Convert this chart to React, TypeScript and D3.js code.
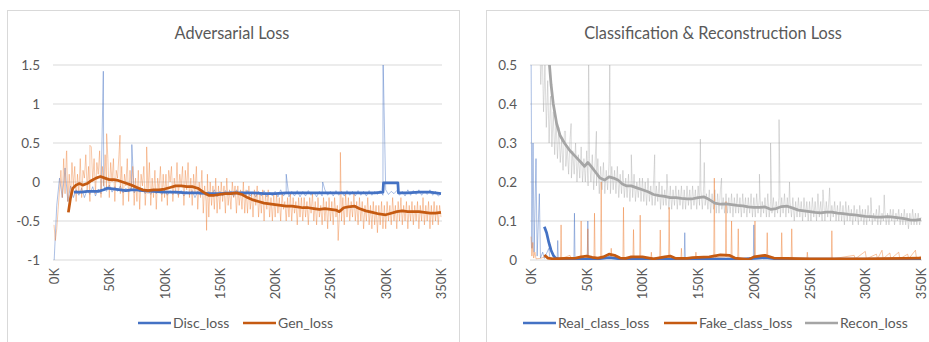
import { scaleLinear, line } from "d3";

// steps in K; raw adversarial logs every 2.5K (disc) / 1.25K (gen, recon)
const xTicks = [0, 50, 100, 150, 200, 250, 300, 350];

const discStep = 2.5;
const discRaw = [
  -1.05, -0.3, 0.05, -0.2, 0.18, -0.25, -0.05, -0.2, -0.1, -0.17,
  -0.08, -0.2, -0.1, -0.16, -0.06, -0.18, -0.09, -0.15, -0.05, -0.12,
  -0.04, -0.13, -0.06, -0.12, -0.05, -0.14, -0.08, -0.13, -0.06, -0.14,
  -0.07, -0.13, -0.08, -0.15, -0.1, -0.16, -0.09, -0.15, -0.11, -0.16,
  -0.1, -0.17, -0.11, -0.16, -0.12, -0.17, -0.11, -0.18, -0.12, -0.16,
  -0.11, -0.2, -0.12, -0.17, -0.11, -0.18, -0.12, -0.17, -0.1, -0.19,
  -0.12, -0.18, -0.11, -0.17, -0.12, -0.19, -0.1, -0.17, -0.12, -0.18,
  -0.11, -0.18, -0.13, -0.19, -0.12, -0.18, -0.11, -0.19, -0.13, -0.18,
  -0.12, -0.19, -0.1, -0.18, -0.13, -0.19, -0.12, -0.18, -0.11, -0.19,
  -0.12, -0.18, -0.11, -0.17, -0.13, -0.19, -0.12, -0.18, -0.1, -0.17,
  -0.12, -0.18, -0.11, -0.17, -0.12, -0.18, -0.11, -0.17, -0.12, -0.18,
  -0.11, -0.17, -0.12, -0.18, -0.11, -0.17, -0.12, -0.16, -0.11, -0.17,
  -0.1, -0.16, -0.12, -0.15, -0.11, -0.17, -0.12, -0.18, -0.1, -0.17,
  -0.11, -0.16, -0.1, -0.17, -0.12, -0.16, -0.1, -0.17, -0.12, -0.18,
  -0.15,
];
const discSpikes: [number, number][] = [
  [44.6, 1.42], [70.4, 0.48], [210, 0.1], [243, 0.0], [297.6, 1.6],
];
const discSmooth: [number, number][] = [
  [18, -0.13], [25, -0.13], [30, -0.12], [35, -0.12], [40, -0.12], [45, -0.1],
  [48, -0.08], [55, -0.09], [60, -0.1], [65, -0.11], [70, -0.1], [75, -0.1],
  [80, -0.11], [90, -0.12], [100, -0.13], [110, -0.13], [120, -0.14], [130, -0.14],
  [140, -0.15], [150, -0.15], [160, -0.14], [170, -0.14], [180, -0.14], [190, -0.15],
  [200, -0.15], [210, -0.14], [220, -0.14], [230, -0.14], [240, -0.14], [250, -0.14],
  [260, -0.14], [270, -0.14], [280, -0.14], [290, -0.14], [297.5, -0.13], [298, -0.01],
  [311, -0.01], [311.5, -0.14], [320, -0.14], [330, -0.13], [340, -0.13], [345, -0.14],
  [350, -0.15],
];

const fineStep = 1.25;
const genRaw = [
  -0.55, -0.75, -0.6, -0.35, -0.1, 0.15, -0.2, 0.3, -0.15, 0.38, -0.25, 0.1, -0.2, 0.25, -0.05, 0.2, -0.25, 0.1, -0.15, 0.3,
  -0.2, 0.15, 0.05, 0.35, -0.1, 0.2, -0.25, 0.45, 0.0, 0.3, -0.15, 0.25, 0.1, 0.4, -0.2, 0.2, -0.05, 0.35, -0.1, 0.3,
  -0.2, 0.25, 0.0, 0.3, -0.25, 0.15, 0.05, 0.35, -0.15, 0.2, -0.3, 0.1, -0.05, 0.3, -0.25, 0.15, -0.1, 0.2, -0.3, 0.05,
  -0.25, 0.15, -0.35, 0.1, -0.05, 0.2, -0.3, 0.0, -0.15, 0.25, -0.3, 0.05, -0.2, 0.15, -0.35, 0.05, -0.1, 0.2, -0.25, 0.1,
  -0.2, 0.1, -0.3, 0.15, 0.0, 0.2, -0.25, 0.05, -0.15, 0.25, -0.2, 0.1, -0.05, 0.2, -0.3, 0.15, -0.1, 0.25, -0.2, 0.05,
  -0.3, 0.1, -0.15, 0.2, -0.35, 0.0, -0.2, 0.15, -0.4, -0.05, -0.25, 0.1, -0.45, 0.0, -0.3, -0.05, -0.35, 0.05, -0.4, -0.05,
  -0.35, 0.0, -0.25, -0.05, -0.4, 0.05, -0.3, -0.1, -0.35, 0.0, -0.2, -0.05, -0.4, -0.05, -0.3, -0.1, -0.35, 0.0, -0.4, -0.1,
  -0.4, -0.05, -0.35, -0.15, -0.45, -0.1, -0.3, -0.05, -0.45, -0.15, -0.4, -0.1, -0.5, -0.15, -0.35, -0.1, -0.45, -0.2, -0.5, -0.15,
  -0.45, -0.15, -0.4, -0.2, -0.5, -0.15, -0.35, -0.25, -0.5, -0.2, -0.45, -0.15, -0.5, -0.2, -0.4, -0.25, -0.55, -0.2, -0.45, -0.2,
  -0.5, -0.2, -0.45, -0.25, -0.55, -0.2, -0.4, -0.15, -0.5, -0.25, -0.55, -0.2, -0.45, -0.3, -0.55, -0.2, -0.5, -0.25, -0.6, -0.2,
  -0.5, -0.25, -0.55, -0.2, -0.45, -0.3, -0.6, -0.25, -0.5, -0.2, -0.55, -0.15, -0.45, -0.2, -0.5, -0.25, -0.45, -0.15, -0.5, -0.25,
  -0.55, -0.2, -0.5, -0.25, -0.6, -0.3, -0.5, -0.2, -0.55, -0.3, -0.6, -0.25, -0.55, -0.3, -0.65, -0.3, -0.55, -0.25, -0.6, -0.3,
  -0.6, -0.25, -0.5, -0.3, -0.55, -0.2, -0.5, -0.3, -0.6, -0.25, -0.5, -0.2, -0.55, -0.3, -0.5, -0.25, -0.6, -0.3, -0.5, -0.25,
  -0.55, -0.3, -0.5, -0.25, -0.6, -0.3, -0.5, -0.2, -0.55, -0.3, -0.5, -0.25, -0.6, -0.3, -0.55, -0.25, -0.5, -0.3, -0.55, -0.3,
  -0.45,
];
const genSpikes: [number, number][] = [
  [11.5, 0.4], [32.5, 0.47], [47.6, 0.62], [59.7, 0.6], [83.8, 0.45],
  [138, -0.62], [210, -0.5], [257, -0.75], [259, 0.38],
];
const genSmooth: [number, number][] = [
  [13, -0.39], [15, -0.2], [17, -0.08], [20, -0.04], [23, -0.02], [26, -0.04],
  [30, -0.02], [34, 0.02], [38, 0.05], [42, 0.07], [46, 0.05], [50, 0.03],
  [54, 0.03], [58, 0.02], [62, 0.0], [66, -0.02], [70, -0.04], [75, -0.07],
  [80, -0.1], [85, -0.11], [90, -0.1], [95, -0.1], [100, -0.09], [105, -0.07],
  [110, -0.05], [115, -0.05], [120, -0.06], [125, -0.06], [130, -0.08], [135, -0.13],
  [140, -0.17], [145, -0.17], [150, -0.16], [155, -0.15], [160, -0.15], [165, -0.14],
  [170, -0.16], [175, -0.2], [180, -0.23], [185, -0.25], [190, -0.27], [195, -0.28],
  [200, -0.29], [205, -0.3], [210, -0.31], [215, -0.31], [220, -0.32], [225, -0.33],
  [230, -0.33], [235, -0.34], [240, -0.35], [245, -0.34], [250, -0.35], [255, -0.36],
  [258, -0.38], [262, -0.33], [266, -0.32], [272, -0.31], [276, -0.34], [282, -0.37],
  [288, -0.39], [294, -0.41], [300, -0.42], [305, -0.4], [310, -0.38], [315, -0.37],
  [320, -0.38], [325, -0.38], [330, -0.38], [335, -0.39], [340, -0.4], [345, -0.4],
  [350, -0.39],
];

const reconRaw: (number | null)[] = [
  null, null, null, null, null, null, 0.62, 0.45, 0.55, 0.38, 0.5, 0.34, 0.46, 0.3, 0.42, 0.29, 0.38, 0.27, 0.36, 0.26,
  0.34, 0.25, 0.31, 0.23, 0.33, 0.24, 0.29, 0.22, 0.31, 0.21, 0.28, 0.22, 0.3, 0.2, 0.27, 0.21, 0.29, 0.2, 0.26, 0.2,
  0.28, 0.19, 0.26, 0.2, 0.27, 0.18, 0.25, 0.19, 0.26, 0.17, 0.24, 0.18, 0.25, 0.17, 0.23, 0.18, 0.25, 0.17, 0.24, 0.18,
  0.23, 0.17, 0.24, 0.16, 0.22, 0.17, 0.23, 0.16, 0.21, 0.16, 0.22, 0.15, 0.21, 0.16, 0.22, 0.15, 0.2, 0.16, 0.21, 0.15,
  0.21, 0.15, 0.2, 0.14, 0.21, 0.15, 0.19, 0.14, 0.2, 0.14, 0.19, 0.15, 0.2, 0.13, 0.19, 0.14, 0.18, 0.14, 0.19, 0.13,
  0.19, 0.13, 0.18, 0.14, 0.19, 0.13, 0.18, 0.14, 0.19, 0.13, 0.18, 0.13, 0.19, 0.14, 0.18, 0.13, 0.19, 0.14, 0.18, 0.13,
  0.19, 0.14, 0.18, 0.13, 0.19, 0.14, 0.17, 0.13, 0.18, 0.12, 0.17, 0.13, 0.18, 0.12, 0.17, 0.12, 0.18, 0.13, 0.16, 0.12,
  0.17, 0.12, 0.16, 0.12, 0.17, 0.11, 0.16, 0.12, 0.17, 0.12, 0.16, 0.11, 0.17, 0.12, 0.16, 0.11, 0.16, 0.12, 0.17, 0.11,
  0.16, 0.11, 0.17, 0.12, 0.16, 0.11, 0.15, 0.12, 0.16, 0.11, 0.17, 0.11, 0.15, 0.12, 0.16, 0.11, 0.15, 0.12, 0.16, 0.11,
  0.16, 0.12, 0.17, 0.11, 0.16, 0.12, 0.15, 0.11, 0.16, 0.1, 0.15, 0.11, 0.16, 0.11, 0.15, 0.1, 0.16, 0.11, 0.15, 0.1,
  0.15, 0.1, 0.16, 0.11, 0.15, 0.1, 0.17, 0.11, 0.15, 0.1, 0.16, 0.1, 0.15, 0.11, 0.16, 0.1, 0.14, 0.11, 0.15, 0.1,
  0.14, 0.1, 0.15, 0.1, 0.14, 0.09, 0.15, 0.1, 0.14, 0.1, 0.13, 0.09, 0.14, 0.1, 0.13, 0.09, 0.14, 0.1, 0.13, 0.09,
  0.13, 0.09, 0.14, 0.1, 0.13, 0.09, 0.12, 0.1, 0.13, 0.09, 0.14, 0.09, 0.12, 0.1, 0.13, 0.09, 0.12, 0.09, 0.13, 0.1,
  0.13, 0.09, 0.12, 0.1, 0.13, 0.09, 0.12, 0.09, 0.13, 0.09, 0.12, 0.08, 0.12, 0.09, 0.13, 0.09, 0.12, 0.09, 0.12, 0.09,
  0.11,
];
const reconSpikes: [number, number][] = [
  [31, 0.33], [36, 0.35], [51.7, 0.55], [58.7, 0.33], [70.7, 0.55], [90, 0.27],
  [111, 0.27], [122, 0.22], [152, 0.31], [155.5, 0.25], [171, 0.21], [205, 0.22],
  [215, 0.3], [222.6, 0.36], [232, 0.2], [262, 0.18], [268, 0.185], [305, 0.16],
  [317, 0.167],
];
const reconSmooth: [number, number][] = [
  [16, 0.52], [18, 0.45], [20, 0.4], [23, 0.35], [26, 0.32], [30, 0.3],
  [35, 0.28], [40, 0.265], [45, 0.25], [48, 0.24], [51, 0.25], [54, 0.24],
  [58, 0.225], [62, 0.21], [66, 0.205], [70, 0.213], [74, 0.21], [78, 0.205],
  [82, 0.195], [86, 0.19], [90, 0.19], [95, 0.185], [100, 0.18], [105, 0.175],
  [110, 0.168], [115, 0.165], [120, 0.163], [125, 0.16], [130, 0.16], [135, 0.158],
  [140, 0.157], [145, 0.157], [150, 0.16], [155, 0.162], [160, 0.155], [165, 0.146],
  [170, 0.143], [175, 0.144], [180, 0.142], [185, 0.14], [190, 0.139], [195, 0.136],
  [200, 0.135], [205, 0.135], [210, 0.136], [215, 0.13], [220, 0.132], [225, 0.137],
  [230, 0.138], [235, 0.133], [240, 0.128], [245, 0.126], [250, 0.124], [255, 0.122],
  [260, 0.121], [265, 0.123], [270, 0.123], [275, 0.12], [280, 0.119], [285, 0.117],
  [290, 0.116], [295, 0.114], [300, 0.112], [305, 0.111], [310, 0.11], [315, 0.11],
  [320, 0.111], [325, 0.11], [330, 0.108], [335, 0.106], [340, 0.103], [345, 0.102],
  [350, 0.104],
];

const realRaw: [number, number][] = [
  [0, 0.6], [0.8, 0.03], [1.8, 0.3], [2.8, 0.02], [4.5, 0.26], [5.5, 0.01],
  [7.5, 0.17], [8.5, 0.005], [10.5, 0.02], [12, 0.004], [16, 0.03], [17, 0.003],
  [23.5, 0.003], [24, 0.05], [24.5, 0.003], [38.5, 0.003], [39, 0.12], [39.5, 0.003],
  [50.5, 0.002], [51, 0.1], [51.5, 0.002], [70, 0.006], [90, 0.002], [137.5, 0.002],
  [138, 0.07], [138.5, 0.002], [199.5, 0.003], [200, 0.09], [200.5, 0.003],
  [215, 0.004], [350, 0.002],
];
const realSmooth: [number, number][] = [
  [12, 0.085], [14, 0.07], [16, 0.045], [18, 0.025], [20, 0.012], [22, 0.005],
  [25, 0.002], [40, 0.002], [60, 0.003], [70, 0.006], [80, 0.003], [100, 0.002],
  [150, 0.002], [190, 0.002], [200, 0.004], [210, 0.006], [220, 0.003],
  [250, 0.002], [350, 0.002],
];

const fakeRaw: [number, number][] = [
  [0, 0.06], [0.8, 0.01], [1.6, 0.045], [2.4, 0.005], [3.5, 0.02], [4.5, 0.003],
  [8, 0.004], [15, 0.01], [16, 0.003], [26.5, 0.004], [27, 0.09], [27.5, 0.004],
  [35, 0.012], [36, 0.003], [44.5, 0.004], [45, 0.1], [45.5, 0.005], [50.5, 0.004],
  [51, 0.08], [51.5, 0.005], [56.5, 0.005], [57, 0.12], [57.5, 0.006], [62.5, 0.006],
  [63, 0.2], [63.5, 0.007], [71.5, 0.006], [72, 0.03], [72.5, 0.006], [82.5, 0.005],
  [83, 0.135], [83.5, 0.005], [91.5, 0.005], [92, 0.078], [92.5, 0.005], [97.5, 0.005],
  [98, 0.115], [98.5, 0.004], [107.5, 0.004], [108, 0.02], [108.5, 0.004], [115.5, 0.004],
  [116, 0.077], [116.5, 0.004], [123.5, 0.004], [124, 0.135], [124.5, 0.004], [134.5, 0.003],
  [135, 0.03], [135.5, 0.003], [147.5, 0.004], [148, 0.02], [148.5, 0.004], [164, 0.006],
  [164.5, 0.21], [165, 0.006], [174.5, 0.008], [175, 0.15], [175.5, 0.008], [179.5, 0.007],
  [180, 0.1], [180.5, 0.007], [185.5, 0.005], [186, 0.08], [186.5, 0.005], [200.5, 0.006],
  [201, 0.1], [201.5, 0.006], [211.5, 0.005], [212, 0.07], [212.5, 0.005], [224.5, 0.004],
  [225, 0.07], [225.5, 0.004], [233.5, 0.004], [234, 0.08], [234.5, 0.004], [247.5, 0.003],
  [248, 0.02], [248.5, 0.003], [269.5, 0.003], [270, 0.075], [270.5, 0.003], [290, 0.012],
  [291, 0.003], [300, 0.022], [301, 0.003], [310, 0.015], [311, 0.003], [315, 0.025],
  [316, 0.003], [322, 0.018], [323, 0.003], [330, 0.02], [331, 0.003], [338, 0.015],
  [339, 0.003], [345, 0.025], [346, 0.003], [350, 0.01],
];
const fakeSmooth: [number, number][] = [
  [12, 0.013], [15, 0.005], [20, 0.003], [30, 0.004], [40, 0.005], [45, 0.008],
  [50, 0.01], [55, 0.007], [60, 0.005], [65, 0.008], [70, 0.015], [75, 0.012],
  [80, 0.005], [85, 0.004], [90, 0.008], [100, 0.008], [110, 0.003], [120, 0.008],
  [125, 0.01], [130, 0.004], [140, 0.004], [145, 0.006], [160, 0.008], [170, 0.013],
  [178, 0.012], [183, 0.005], [195, 0.001], [200, 0.008], [210, 0.012], [218, 0.005],
  [230, 0.004], [250, 0.003], [300, 0.003], [350, 0.005],
];

type Pt = [number, number];
const fromRaw = (vals: (number | null)[], step: number, spikes: Pt[]): Pt[] =>
  (vals
    .map((v, i) => [i * step, v])
    .filter((p) => p[1] !== null) as Pt[])
    .concat(spikes)
    .sort((a, b) => a[0] - b[0]);

const FONT = "Lato, 'Open Sans', sans-serif";
const TXT = "#595959";
const GRID = "#D9D9D9";
const BLUE = "#4472C4";
const ORANGE = "#ED7D31";
const ORANGE_DARK = "#C55A11";
const GRAY = "#A5A5A5";

type Series = { pts: Pt[]; color: string; width: number; opacity: number };
type LegendItem = { label: string; color: string; x: number };

const Panel = ({
  id, title, titleX, x0, x1, yDomain, yTicks, series, legend,
}: {
  id: string; title: string; titleX: number; x0: number; x1: number;
  yDomain: [number, number]; yTicks: number[]; series: Series[]; legend: LegendItem[];
}) => {
  const top = 65;
  const bottom = 260;
  const x = scaleLinear().domain([0, 350]).range([x0, x1]);
  const y = scaleLinear().domain(yDomain).range([bottom, top]);
  const gen = line<Pt>().x((d) => x(d[0])).y((d) => y(d[1]));
  return (
    <g fontFamily={FONT} fill={TXT}>
      <text x={titleX} y={39} textAnchor="middle" fontSize={16.3}>{title}</text>
      <defs>
        <clipPath id={id}>
          <rect x={x0 - 2} y={top} width={x1 - x0 + 4} height={bottom - top} />
        </clipPath>
      </defs>
      {yTicks.map((t) => (
        <g key={t}>
          <line x1={x0 - 1} x2={x1 + 1} y1={y(t)} y2={y(t)} stroke={GRID} strokeWidth={1} />
          <text x={x0 - 14} y={y(t)} dy="0.35em" textAnchor="end" fontSize={13.5}>
            {String(t)}
          </text>
        </g>
      ))}
      {xTicks.map((t) => (
        <text
          key={t}
          transform={`translate(${x(t)},268) rotate(-90)`}
          textAnchor="end"
          dominantBaseline="central"
          fontSize={13}
        >
          {t + "K"}
        </text>
      ))}
      <g clipPath={`url(#${id})`} fill="none" strokeLinejoin="round">
        {series.map((s, i) => (
          <path key={i} d={gen(s.pts) ?? ""} stroke={s.color} strokeWidth={s.width} strokeOpacity={s.opacity} />
        ))}
      </g>
      {legend.map((l) => (
        <g key={l.label}>
          <line x1={l.x} x2={l.x + 33} y1={323} y2={323} stroke={l.color} strokeWidth={2.5} />
          <text x={l.x + 35} y={323} dy="0.35em" fontSize={14}>{l.label}</text>
        </g>
      ))}
    </g>
  );
};

export default function App() {
  return (
    <svg width={929} height={342} style={{ position: "absolute", left: 0, top: 0, background: "#fff" }}>
      <rect x={7.5} y={10.5} width={452} height={340} fill="#fff" stroke={GRID} />
      <rect x={486.5} y={10.5} width={460} height={340} fill="#fff" stroke={GRID} />
      <Panel
        id="clipA"
        title="Adversarial Loss"
        titleX={232}
        x0={54}
        x1={441}
        yDomain={[-1, 1.5]}
        yTicks={[-1, -0.5, 0, 0.5, 1, 1.5]}
        series={[
          { pts: fromRaw(discRaw, discStep, discSpikes), color: BLUE, width: 1, opacity: 0.45 },
          { pts: fromRaw(genRaw, fineStep, genSpikes), color: ORANGE, width: 0.9, opacity: 0.45 },
          { pts: discSmooth, color: BLUE, width: 2.75, opacity: 1 },
          { pts: genSmooth, color: ORANGE_DARK, width: 2.75, opacity: 1 },
        ]}
        legend={[
          { label: "Disc_loss", color: BLUE, x: 138 },
          { label: "Gen_loss", color: ORANGE_DARK, x: 243 },
        ]}
      />
      <Panel
        id="clipB"
        title="Classification & Reconstruction Loss"
        titleX={713}
        x0={531}
        x1={921}
        yDomain={[0, 0.5]}
        yTicks={[0, 0.1, 0.2, 0.3, 0.4, 0.5]}
        series={[
          { pts: fromRaw(reconRaw, fineStep, reconSpikes), color: GRAY, width: 0.9, opacity: 0.42 },
          { pts: realRaw, color: BLUE, width: 1, opacity: 0.45 },
          { pts: fakeRaw, color: ORANGE, width: 1, opacity: 0.45 },
          { pts: realSmooth, color: BLUE, width: 2.75, opacity: 1 },
          { pts: fakeSmooth, color: ORANGE_DARK, width: 2.75, opacity: 1 },
          { pts: reconSmooth, color: GRAY, width: 2.75, opacity: 1 },
        ]}
        legend={[
          { label: "Real_class_loss", color: BLUE, x: 523 },
          { label: "Fake_class_loss", color: ORANGE_DARK, x: 664 },
          { label: "Recon_loss", color: GRAY, x: 805 },
        ]}
      />
    </svg>
  );
}
